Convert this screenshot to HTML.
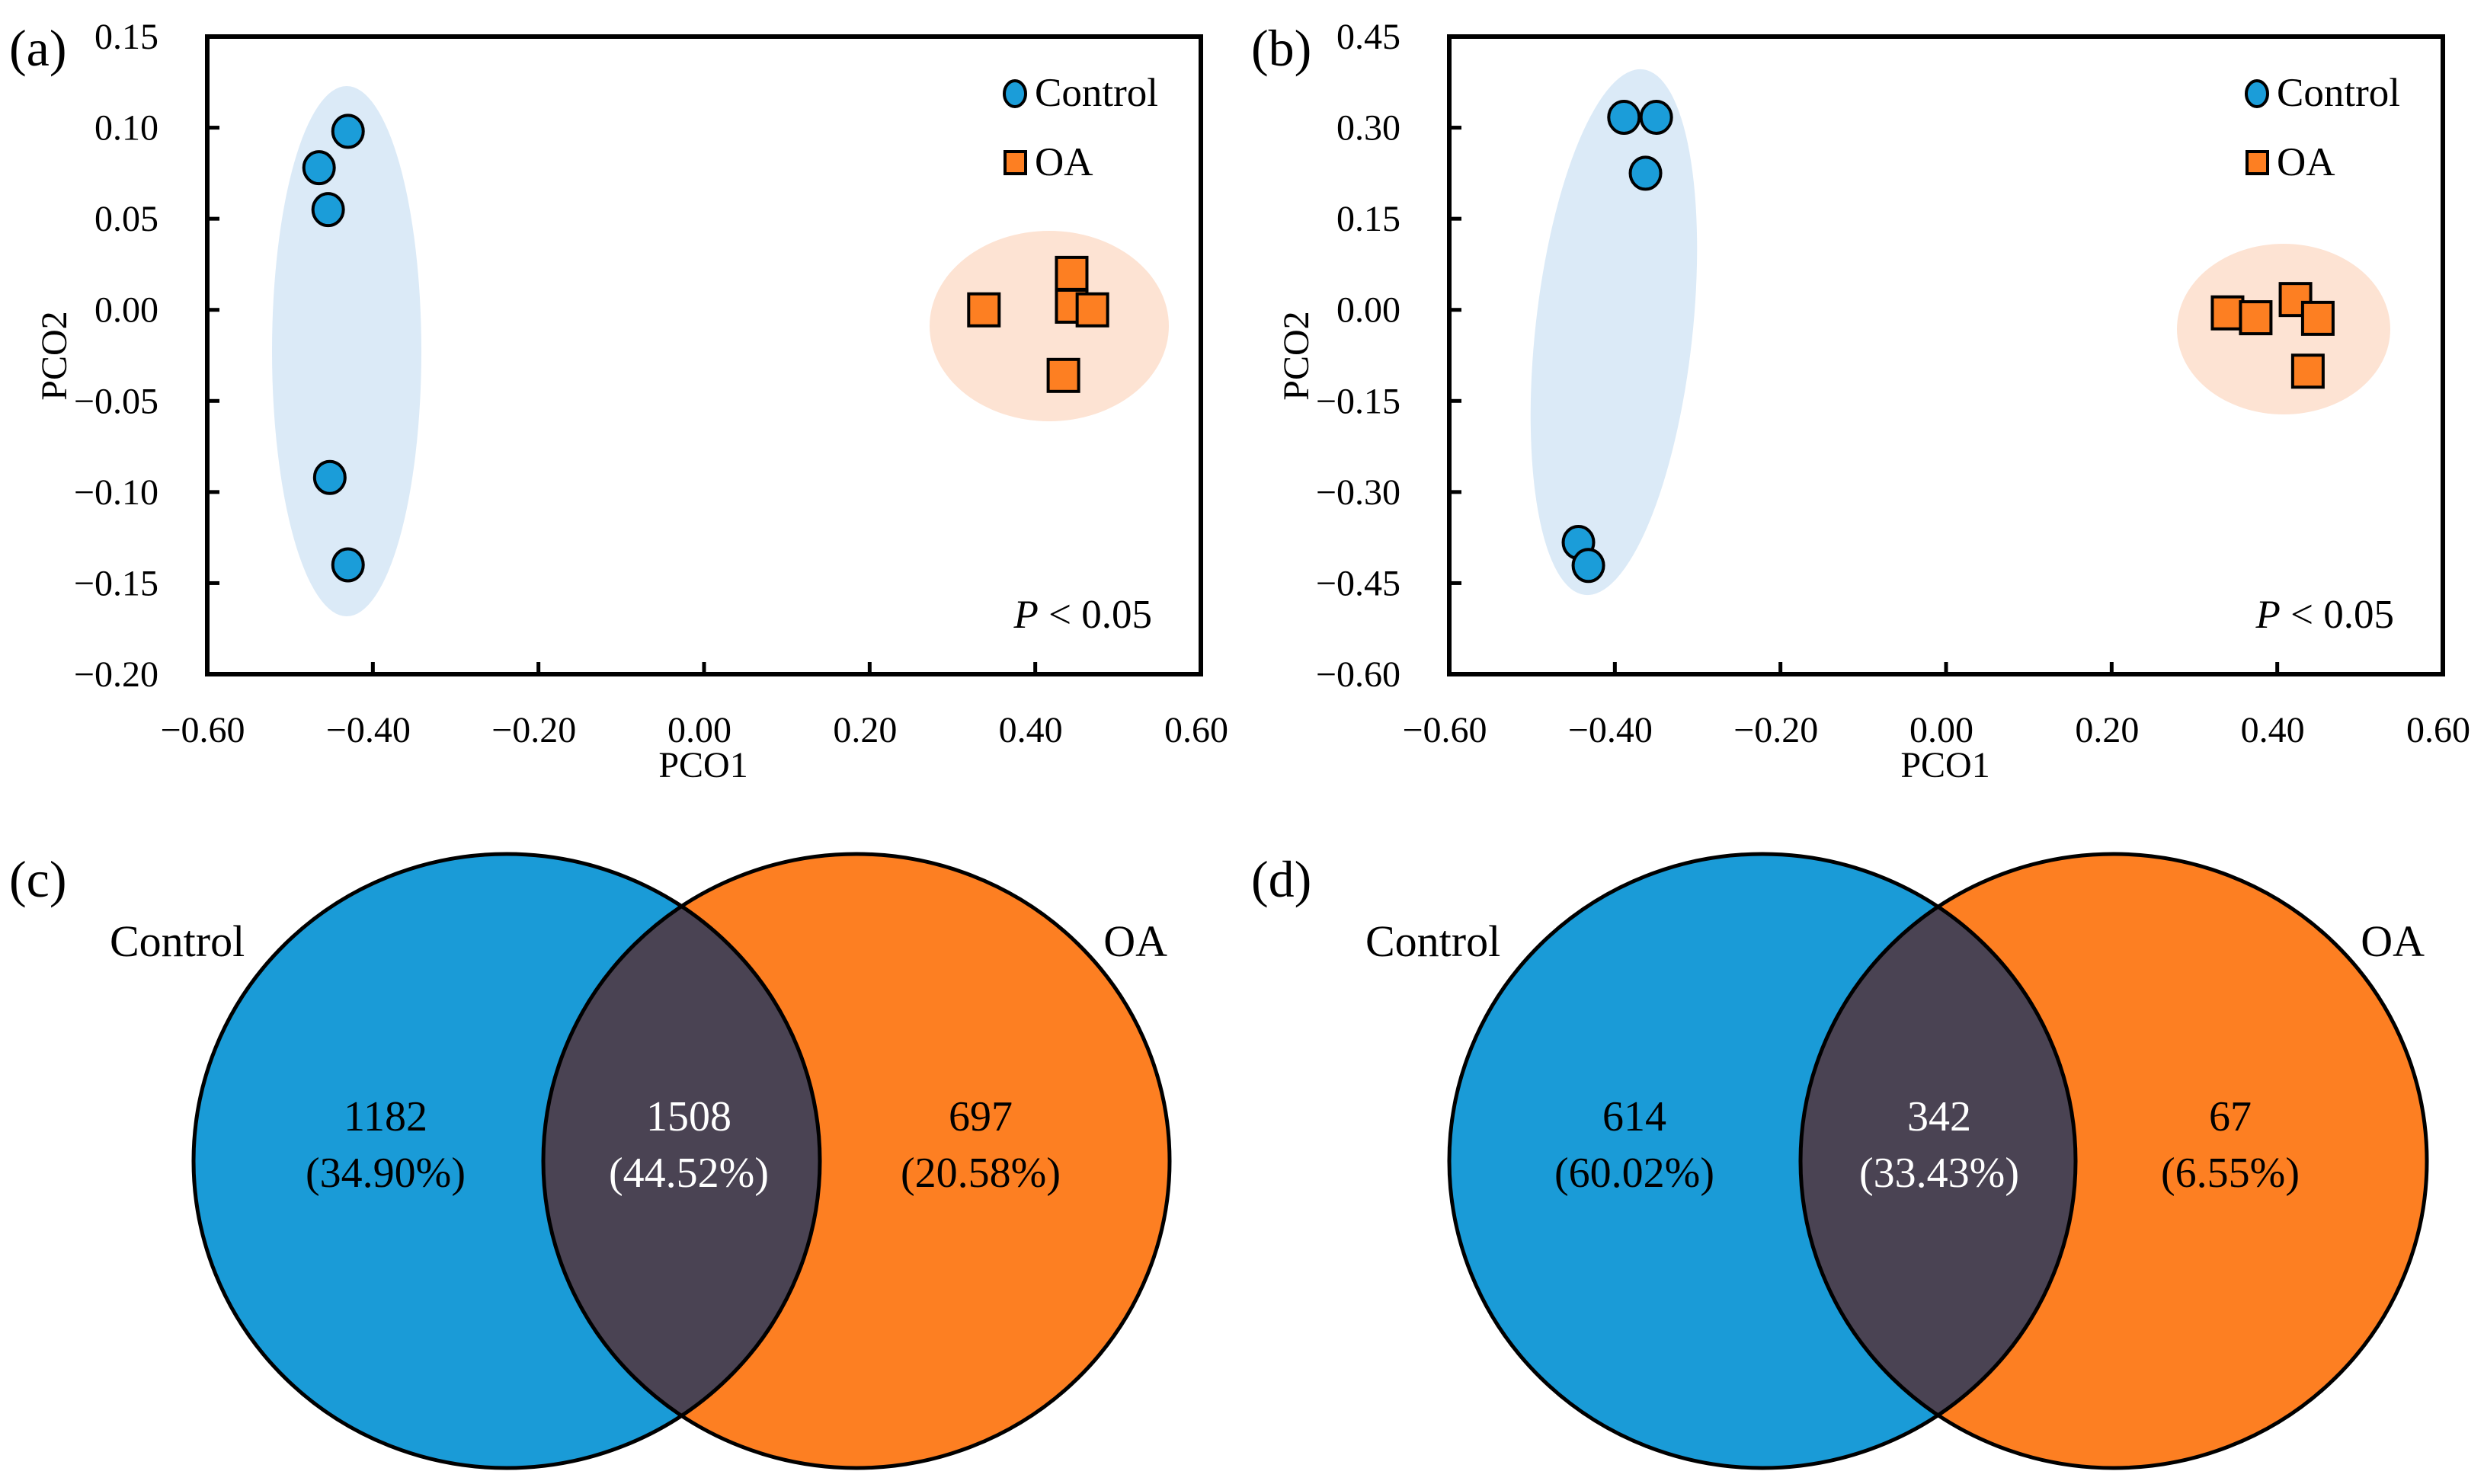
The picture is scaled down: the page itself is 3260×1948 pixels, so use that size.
<!DOCTYPE html>
<html><head><meta charset="utf-8"><style>
html,body{margin:0;padding:0;background:#fff;}
svg{display:block;font-family:"Liberation Serif",serif;}
</style></head><body>
<svg id="fig" width="3260" height="1948" viewBox="0 0 3260 1948" xmlns="http://www.w3.org/2000/svg"></svg>
<script>
// ---- Panel (a) data ----
const aCtrlX = [-0.430, -0.465, -0.454, -0.452, -0.430];
const aCtrlY = [0.098, 0.078, 0.055, -0.092, -0.140];
const aOAX = [0.338, 0.444, 0.444, 0.469, 0.434];
const aOAY = [0.000, 0.020, 0.002, 0.000, -0.036];
const aYTicks = [0.15, 0.10, 0.05, 0.00, -0.05, -0.10, -0.15, -0.20];
// ---- Panel (b) data ----
const bCtrlX = [-0.389, -0.350, -0.363, -0.444, -0.432];
const bCtrlY = [0.317, 0.317, 0.225, -0.383, -0.421];
const bOAX = [0.340, 0.374, 0.422, 0.449, 0.437];
const bOAY = [-0.005, -0.013, 0.017, -0.014, -0.101];
const bYTicks = [0.45, 0.30, 0.15, 0.00, -0.15, -0.30, -0.45, -0.60];
const xTicks = [-0.60, -0.40, -0.20, 0.00, 0.20, 0.40, 0.60];
// ---- Venn data ----
const cCounts = ["1182", "1508", "697"];
const cPcts = ["(34.90%)", "(44.52%)", "(20.58%)"];
const dCounts = ["614", "342", "67"];
const dPcts = ["(60.02%)", "(33.43%)", "(6.55%)"];

const NS = "http://www.w3.org/2000/svg";
const svg = document.getElementById('fig');
function mk(tag, attrs, parent, text) {
  const e = document.createElementNS(NS, tag);
  for (const k in attrs) e.setAttribute(k, attrs[k]);
  if (text !== undefined) e.textContent = text;
  (parent || svg).appendChild(e);
  return e;
}
function fmt(v) { const s = Math.abs(v).toFixed(2); return (v < -1e-9 ? "\u2212" : "") + s; }

function scatter(ox, label, ctrlX, ctrlY, oaX, oaY, yTicks, blueEll, orangeEll) {
  const g = mk('g', {});
  
  
  const L = ox + 272, R = ox + 1576, T = 48, B = 885;
  const y0 = yTicks[0], y1 = yTicks[yTicks.length - 1];
  const sx = v => L + (v - (-0.6)) / 1.2 * (R - L);
  const sy = v => T + (y0 - v) / (y0 - y1) * (B - T);
  const be = mk('ellipse', {cx: ox + blueEll[0], cy: blueEll[1], rx: blueEll[2], ry: blueEll[3], fill: '#dbeaf7', transform: 'rotate(' + blueEll[4] + ' ' + (ox + blueEll[0]) + ' ' + blueEll[1] + ')'}, g);
  
  
  const oe = mk('ellipse', {cx: ox + orangeEll[0], cy: orangeEll[1], rx: orangeEll[2], ry: orangeEll[3], fill: '#fde3d3'}, g);
  
  
  const fr = mk('rect', {x: L, y: T, width: R - L, height: B - T, fill: 'none', stroke: '#000', 'stroke-width': 6}, g);
  
  
  yTicks.forEach(v => {
    const y = sy(v);
    mk('line', {x1: L, x2: L + 16, y1: y, y2: y, stroke: '#000', 'stroke-width': 5}, g);
    const t = mk('text', {x: ox + 208, y: y + 16, 'text-anchor': 'end', 'font-size': 48}, g, fmt(v));
    
    
  });
  xTicks.forEach(v => {
    const x = sx(v);
    mk('line', {x1: x, x2: x, y1: B, y2: B - 16, stroke: '#000', 'stroke-width': 5}, g);
    const t = mk('text', {x: x - 6, y: 974, 'text-anchor': 'middle', 'font-size': 48}, g, fmt(v));
    
    
  });
  const xt = mk('text', {x: ox + 923, y: 1020, 'text-anchor': 'middle', 'font-size': 48}, g, 'PCO1');
  
  
  const yt = mk('text', {x: ox + 87, y: 467, 'text-anchor': 'middle', 'font-size': 48, transform: 'rotate(-90 ' + (ox + 87) + ' 467)'}, g, 'PCO2');
  
  
  const pl = mk('text', {x: ox + 12, y: 86, 'font-size': 68}, g, '(' + label + ')');
  
  
  ctrlX.forEach((v, i) => {
    const c = mk('ellipse', {cx: sx(v), cy: sy(ctrlY[i]), rx: 20, ry: 21, fill: '#1b9dd9', stroke: '#000', 'stroke-width': 4}, g);
    
    
  });
  oaX.forEach((v, i) => {
    const s = mk('rect', {x: sx(v) - 20, y: sy(oaY[i]) - 21, width: 40, height: 42, fill: '#fd7f22', stroke: '#000', 'stroke-width': 4}, g);
    
    
  });
  const lc = mk('ellipse', {cx: ox + 1332, cy: 123, rx: 14, ry: 17, fill: '#1b9dd9', stroke: '#000', 'stroke-width': 4}, g);
  
  
  const lct = mk('text', {x: ox + 1358, y: 139, 'font-size': 53}, g, 'Control');
  
  
  const ls = mk('rect', {x: ox + 1319, y: 199, width: 27, height: 29, fill: '#fd7f22', stroke: '#000', 'stroke-width': 4}, g);
  
  
  const lst = mk('text', {x: ox + 1358, y: 230, 'font-size': 53}, g, 'OA');
  
  
  const p = mk('text', {x: ox + 1512, y: 824, 'text-anchor': 'end', 'font-size': 53}, g);
  
  
  mk('tspan', {'font-style': 'italic'}, p, 'P');
  mk('tspan', {}, p, ' < 0.05');
}

scatter(0, 'a', aCtrlX, aCtrlY, aOAX, aOAY, aYTicks, [455, 461, 98, 348, 0], [1377, 428, 157, 125]);
scatter(1630, 'b', bCtrlX, bCtrlY, bOAX, bOAY, bYTicks, [488, 436, 103, 347, 6.3], [1367, 432, 140, 112]);

function venn(ox, label, counts, pcts, lcx, rcx, xs) {
  const g = mk('g', {});
  
  
  const cy = 1524, rx = 411, ry = 403;
  const id = 'clip' + label;
  const defs = mk('defs', {}, g);
  const cp = mk('clipPath', {id: id}, defs);
  mk('ellipse', {cx: lcx, cy: cy, rx: rx, ry: ry}, cp);
  const b = mk('ellipse', {cx: lcx, cy: cy, rx: rx, ry: ry, fill: '#1a9bd7'}, g);
  
  
  const o = mk('ellipse', {cx: rcx, cy: cy, rx: rx, ry: ry, fill: '#fd7f22'}, g);
  
  
  const it = mk('ellipse', {cx: rcx, cy: cy, rx: rx, ry: ry, fill: '#4a4353', 'clip-path': 'url(#' + id + ')'}, g);
  
  
  mk('ellipse', {cx: lcx, cy: cy, rx: rx, ry: ry, fill: 'none', stroke: '#000', 'stroke-width': 5}, g);
  mk('ellipse', {cx: rcx, cy: cy, rx: rx, ry: ry, fill: 'none', stroke: '#000', 'stroke-width': 5}, g);
  const colors = ['#000', '#fff', '#000'];
  counts.forEach((c, i) => {
    const t1 = mk('text', {x: xs[i], y: 1484, 'text-anchor': 'middle', 'font-size': 56, fill: colors[i]}, g, c);
    
    
    const t2 = mk('text', {x: xs[i], y: 1558, 'text-anchor': 'middle', 'font-size': 56, fill: colors[i]}, g, pcts[i]);
    
    
  });
  const cl = mk('text', {x: lcx - rx - 110, y: 1255, 'font-size': 58}, g, 'Control');
  
  
  const ol = mk('text', {x: rcx + rx - 3, y: 1255, 'text-anchor': 'end', 'font-size': 58}, g, 'OA');
  
  
  const pl = mk('text', {x: ox + 12, y: 1177, 'font-size': 68}, g, '(' + label + ')');
  
  
}
venn(0, 'c', cCounts, cPcts, 665, 1124, [506, 904, 1287]);
venn(1630, 'd', dCounts, dPcts, 2313, 2774, [2145, 2545, 2927]);
</script>
</body></html>
